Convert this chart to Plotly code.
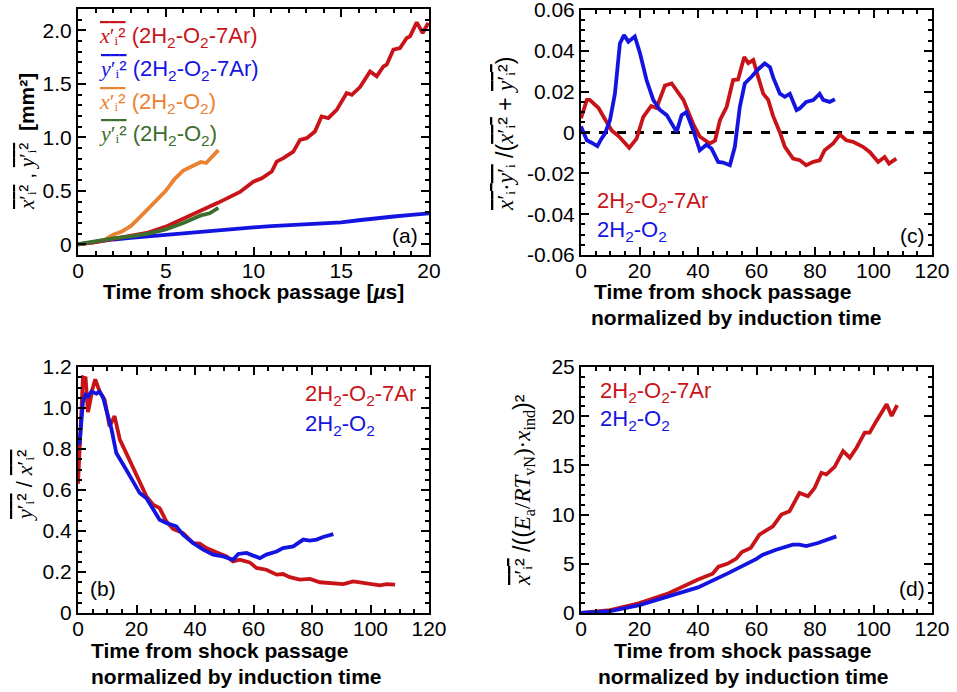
import plotly.graph_objects as go

W, H = 957, 692

# ---------------- data ----------------
# panel (a): time [us] vs mean square displacement [mm^2]
a_t_red = [0, 1, 2, 3, 4, 5, 6, 7, 8, 9.23, 9.99, 10.47, 11.04, 11.32, 11.7, 12.27, 12.65, 13.03, 13.5,
           13.88, 14.26, 14.74, 15.31, 15.6, 16.07, 16.64, 17.02, 17.4, 17.59, 17.97, 18.35, 18.73,
           18.92, 19.3, 19.64, 19.96]
a_red = [0, 0.02, 0.05, 0.08, 0.11, 0.165, 0.24, 0.31, 0.39, 0.49, 0.586, 0.618, 0.68, 0.773, 0.805,
         0.867, 0.977, 0.992, 1.054, 1.195, 1.18, 1.257, 1.414, 1.398, 1.47, 1.616, 1.57, 1.663, 1.679,
         1.82, 1.835, 1.929, 1.944, 2.075, 1.976, 2.07]
a_t_blue = [0, 1, 2, 3, 4, 5, 6, 7, 8, 9, 10, 11, 12, 13, 14, 15, 16, 17, 18, 19, 20]
a_blue = [0, 0.025, 0.045, 0.06, 0.075, 0.088, 0.10, 0.115, 0.13, 0.145, 0.158, 0.17, 0.178, 0.185,
          0.19, 0.205, 0.225, 0.245, 0.26, 0.275, 0.29]
a_t_orange = [0, 1, 1.5, 2, 2.5, 3, 3.5, 4, 4.5, 5, 5.5, 6, 6.5, 7, 7.3, 7.6, 8]
a_orange = [0, 0.02, 0.04, 0.09, 0.12, 0.17, 0.25, 0.33, 0.41, 0.50, 0.61, 0.69, 0.73, 0.77, 0.76, 0.81, 0.88]
a_t_green = [0, 1, 2, 3, 4, 5, 6, 7, 7.5, 8]
a_green = [0, 0.03, 0.055, 0.075, 0.10, 0.14, 0.20, 0.27, 0.29, 0.34]

# panel (c): normalized time vs correlation
c_t_red = [0, 2, 3, 6, 8, 10.5, 13, 16.5, 19, 21.3, 24, 25.8, 28.7, 31, 35, 38.4, 40.6, 44, 45.8, 47.5,
           49.8, 52, 53.7, 55.8, 57.2, 58.9, 60.6, 62.3, 64, 65.7, 68, 69.7, 72.5, 74.8, 77, 79.4, 81.6,
           83.3, 86.2, 88.5, 90.7, 93, 96.4, 98.7, 101.6, 103.8, 105.3, 107.8]
c_red = [0.007, 0.016, 0.016, 0.012, 0.007, 0.001, -0.002, -0.0075, -0.003, 0.0077, 0.013, 0.012, 0.023,
         0.024, 0.016, 0.004, -0.002, -0.0054, -0.004, 0.006, 0.0126, 0.0257, 0.026, 0.037, 0.034, 0.0355,
         0.027, 0.019, 0.016, 0.008, 0.0, -0.007, -0.0128, -0.0136, -0.016, -0.0144, -0.0136, -0.0087,
         -0.0054, -0.001, -0.0038, -0.0046, -0.007, -0.0095, -0.0144, -0.012, -0.0152, -0.0128]
c_t_blue = [0, 2, 3.6, 5.6, 7, 8.2, 9.9, 11.6, 13.3, 14.7, 16.2, 18.4, 20.2, 22.4, 24.7, 27, 29.3, 32.7,
            34.4, 36, 38.4, 40.6, 42.9, 44.6, 46.9, 48.6, 50.9, 52.6, 54.3, 56, 58.3, 60.6, 62.8, 64.6,
            65.7, 68, 69.7, 71.4, 73.7, 74.8, 77, 79.4, 81.6, 82.8, 85, 86.8]
c_blue = [0.003, -0.0038, -0.005, -0.0067, -0.003, -0.0005, 0.006, 0.019, 0.0436, 0.0477, 0.0445, 0.047,
          0.0387, 0.0257, 0.016, 0.011, 0.0085, 0.0003, 0.0085, 0.010, 0.001, -0.0087, -0.006, -0.0078,
          -0.0144, -0.0147, -0.016, -0.007, 0.0126, 0.024, 0.0273, 0.031, 0.0338, 0.032, 0.027, 0.019,
          0.0175, 0.019, 0.011, 0.0118, 0.015, 0.0159, 0.019, 0.016, 0.015, 0.0163]

# panel (b): normalized time vs y'^2 / x'^2
b_t_red = [0, 1.1, 1.7, 2.6, 3.4, 4, 4.9, 5.9, 7.4, 9.1, 10.8, 12.5, 14.3, 16.5, 18.8, 21.1, 23.4, 25.7,
           27.9, 30.2, 32.5, 35.9, 39.4, 41.6, 43.9, 47.3, 50.8, 53, 55.3, 58.7, 61, 64.4, 67.9, 70.1,
           72.4, 75.8, 79.3, 82.7, 87.3, 90.7, 94.1, 98.7, 103.2, 105.5, 108.4]
b_red = [0.63, 1.01, 1.15, 1.146, 0.98, 1.02, 1.09, 1.14, 1.08, 1.04, 0.91, 0.96, 0.846, 0.78, 0.707,
         0.634, 0.569, 0.528, 0.512, 0.447, 0.41, 0.39, 0.341, 0.338, 0.317, 0.296, 0.276, 0.252, 0.26,
         0.247, 0.22, 0.211, 0.187, 0.19, 0.175, 0.163, 0.166, 0.15, 0.146, 0.141, 0.154, 0.143, 0.135,
         0.141, 0.138]
b_t_blue = [0.5, 0.9, 1.7, 2.6, 3.4, 4.6, 6.3, 7.4, 8.6, 9.7, 11.4, 13.1, 14.3, 16.5, 18.8, 21.1, 23.4,
            25.7, 27.9, 30.2, 33.6, 35.9, 39.4, 42.8, 46.2, 49.6, 53, 54.8, 57.6, 59.9, 62.2, 64.4, 67.9,
            70.1, 73.6, 77, 79.3, 81.6, 83.8, 87.3]
b_blue = [0.82, 0.88, 1.03, 1.065, 1.057, 1.08, 1.07, 1.08, 1.05, 0.99, 0.90, 0.78, 0.748, 0.699, 0.642,
          0.585, 0.56, 0.504, 0.455, 0.439, 0.423, 0.382, 0.341, 0.309, 0.285, 0.276, 0.26, 0.288, 0.293,
          0.28, 0.268, 0.285, 0.30, 0.317, 0.325, 0.358, 0.353, 0.358, 0.371, 0.385]

# panel (d): normalized time vs normalized x'^2
d_t_red = [0, 10, 20, 30, 40, 45, 47, 50, 53, 55, 58, 61.0, 65.6, 68.5, 71.3, 74.7, 77.6, 79.9, 82.2,
           83.9, 86.7, 89.6, 91.9, 94.2, 97.0, 98.7, 101.0, 104.5, 106.2, 108.1]
d_red = [0, 0.3, 1.0, 2.0, 3.4, 4.0, 4.7, 5.0, 5.5, 6.2, 6.6, 7.96, 8.81, 10.0, 10.34, 12.2, 11.87,
         12.72, 14.25, 14.08, 14.86, 16.46, 15.78, 16.8, 18.33, 18.33, 19.52, 21.22, 20.03, 21.12]
d_t_blue = [0, 10, 20, 30, 40, 50, 55, 60, 62, 66.7, 72.4, 74.7, 77, 81, 87.3]
d_blue = [0, 0.2, 0.8, 1.7, 2.6, 4.0, 4.7, 5.5, 5.9, 6.43, 6.94, 6.94, 6.8, 7.11, 7.79]

RED = "rgb(200,20,25)"
BLUE = "rgb(20,20,225)"
ORANGE = "rgb(235,130,50)"
GREEN = "rgb(60,110,45)"

FONT = "Liberation Sans, Arial, Helvetica, sans-serif"


def px(x):
    return x / W


def py(y):
    return 1 - y / H


fig = go.Figure()


def line(x, y, color, xa, ya, width=3.8):
    fig.add_trace(go.Scatter(x=x, y=y, mode="lines", line=dict(color=color, width=width),
                             xaxis=xa, yaxis=ya, showlegend=False, hoverinfo="skip"))


line(a_t_blue, a_blue, BLUE, "x", "y")
line(a_t_orange, a_orange, ORANGE, "x", "y")
line(a_t_red, a_red, RED, "x", "y")
line(a_t_green, a_green, GREEN, "x", "y")

fig.add_trace(go.Scatter(x=[0, 120], y=[0, 0], mode="lines", line=dict(color="black", width=3, dash="dash"),
                         xaxis="x2", yaxis="y2", showlegend=False, hoverinfo="skip"))
line(c_t_red, c_red, RED, "x2", "y2")
line(c_t_blue, c_blue, BLUE, "x2", "y2")

line(b_t_red, b_red, RED, "x3", "y3")
line(b_t_blue, b_blue, BLUE, "x3", "y3")

line(d_t_red, d_red, RED, "x4", "y4")
line(d_t_blue, d_blue, BLUE, "x4", "y4")


def axis(dom, rng, dtick, minor_dtick, anchor, tickvals=None, ticktext=None, is_x=False):
    d = dict(domain=dom, range=rng, anchor=anchor, showline=True, linecolor="black", linewidth=2,
             mirror="ticks", ticks="inside", ticklen=8, tickwidth=2, tickcolor="black",
             showgrid=False, zeroline=False, automargin=False, ticklabeloverflow="allow",
             tickfont=dict(family=FONT, size=21, color="black"),
             minor=dict(ticks="inside", ticklen=4, tickwidth=1.5, tickcolor="black", dtick=minor_dtick,
                        showgrid=False))
    if is_x:
        d["ticklabelstandoff"] = -4
    if tickvals is not None:
        d["tickmode"] = "array"
        d["tickvals"] = tickvals
        d["ticktext"] = ticktext
    else:
        d["dtick"] = dtick
        d["tick0"] = 0
    return d


xa_dom = [px(78), px(429)]
xc_dom = [px(581), px(932)]
top_dom = [py(255), py(9)]
bot_dom = [py(613), py(367)]

fig.update_layout(
    width=W, height=H, margin=dict(l=0, r=0, t=0, b=0, autoexpand=False),
    paper_bgcolor="white", plot_bgcolor="white",
    xaxis=axis(xa_dom, [0, 20], 5, 1, "y", is_x=True),
    yaxis=axis(top_dom, [-0.1, 2.2], None, 0.1, "x",
               [0, 0.5, 1.0, 1.5, 2.0], ["0", "0.5", "1.0", "1.5", "2.0"]),
    xaxis2=axis(xc_dom, [0, 120], 20, 5, "y2", is_x=True),
    yaxis2=axis([py(255), py(10)], [-0.06, 0.06], None, 0.005, "x2",
                [-0.06, -0.04, -0.02, 0, 0.02, 0.04, 0.06],
                ["-0.06", "-0.04", "-0.02", "0", "0.02", "0.04", "0.06"]),
    xaxis3=axis(xa_dom, [0, 120], 20, 5, "y3", is_x=True),
    yaxis3=axis(bot_dom, [0, 1.2], None, 0.05, "x3",
                [0, 0.2, 0.4, 0.6, 0.8, 1.0, 1.2], ["0", "0.2", "0.4", "0.6", "0.8", "1.0", "1.2"]),
    xaxis4=axis(xc_dom, [0, 120], 20, 5, "y4", is_x=True),
    yaxis4=axis(bot_dom, [0, 25], 5, 1, "x4"),
)

SERIF = "Liberation Serif, Times New Roman, serif"


def ov(s):
    return '<span style="text-decoration:overline">' + s + '</span>'


def xv(v):
    return '<span style="font-family:%s"><i>%s</i>′ᵢ</span>' % (SERIF, v)


X2 = ov(xv("x") + "²")
Y2 = ov(xv("y") + "²")

ann = []


def text(x, y, s, size=20, color="black", xanchor="center", angle=0, bold=False):
    if bold:
        s = "<b>" + s + "</b>"
    ann.append(dict(x=px(x), y=py(y), xref="paper", yref="paper", text=s, showarrow=False,
                    xanchor=xanchor, yanchor="middle", textangle=angle,
                    font=dict(family=FONT, size=size, color=color)))


# x-axis titles
text(253, 291, "Time from shock passage [<i>µ</i>s]", 21, bold=True)
text(480 + 243, 291, "Time from shock passage", 21, bold=True)
text(480 + 256, 317, "normalized by induction time", 21, bold=True)
text(220, 650, "Time from shock passage", 21, bold=True)
text(236, 676, "normalized by induction time", 21, bold=True)
text(480 + 263, 650, "Time from shock passage", 21, bold=True)
text(480 + 263, 676, "normalized by induction time", 21, bold=True)

# y-axis titles
text(27, 142, X2 + " , " + Y2 + "  <b>[mm²]</b>", 21, angle=-90)
text(505, 134, ov(xv("x") + "·" + xv("y")) + " /(" + X2 + " + " + Y2 + ")", 23, angle=-90)
text(25, 486, Y2 + " / " + X2, 22, angle=-90)
text(523, 490, X2 + ' /((<span style="font-family:%s"><i>E</i><sub>a</sub>/<i>RT</i><sub>vN</sub>)·<i>x</i><sub>ind</sub></span>)²' % SERIF,
     23, angle=-90)

# panel labels
text(405, 235, "(a)", 21)
text(912, 235, "(c)", 21)
text(103, 588, "(b)", 21)
text(912, 588, "(d)", 21)

# legends
H2 = "2H<sub>2</sub>-O<sub>2</sub>"
text(97, 37, X2 + " (" + H2 + "-7Ar)", 22, RED, "left")
text(97, 70, Y2 + " (" + H2 + "-7Ar)", 22, BLUE, "left")
text(97, 103, X2 + " (" + H2 + ")", 22, ORANGE, "left")
text(97, 135, Y2 + " (" + H2 + ")", 22, GREEN, "left")

text(595, 202, H2 + "-7Ar", 22, RED, "left")
text(595, 231, H2, 22, BLUE, "left")

text(303, 395, H2 + "-7Ar", 22, RED, "left")
text(303, 425, H2, 22, BLUE, "left")

text(598, 392, H2 + "-7Ar", 22, RED, "left")
text(598, 420, H2, 22, BLUE, "left")

fig.update_layout(annotations=ann)
fig.write_html("out.html")
